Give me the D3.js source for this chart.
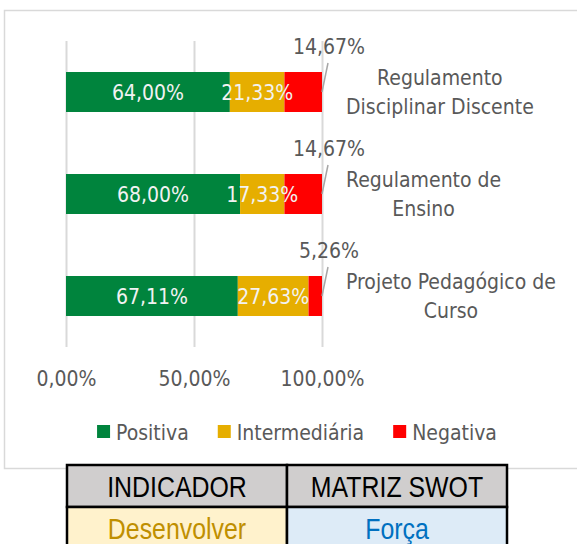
<!DOCTYPE html>
<html>
<head>
<meta charset="utf-8">
<script src="https://cdn.jsdelivr.net/npm/d3@7"></script>
<style>
  body { margin: 0; background: #fff; }
  svg { display: block; }
</style>
</head>
<body>
<svg id="chart"></svg>
<script>
const width = 577
const height = 544

// chart data, top bar first
const categories = ["Regulamento Disciplinar Discente", "Regulamento de Ensino", "Projeto Pedagógico de Curso"]
const category_lines = [["Regulamento", "Disciplinar Discente"], ["Regulamento de", "Ensino"], ["Projeto Pedagógico de", "Curso"]]
const series_names = ["Positiva", "Intermediária", "Negativa"]
const positiva = [64.00, 68.00, 67.11]
const intermediaria = [21.33, 17.33, 27.63]
const negativa = [14.67, 14.67, 5.26]
const x_ticks = [0, 50, 100]
const series_colors = ["#00843d", "#e6ae00", "#ff0000"]

// small table under the chart
const table_header = ["INDICADOR", "MATRIZ SWOT"]
const table_row = ["Desenvolver", "Força"]

const chart_font = "'DejaVu Sans Condensed', 'DejaVu Sans', sans-serif"
const table_font = "'Liberation Sans', Arial, sans-serif"
const text_gray = "#595959"

let svg = d3.select("#chart")
    .attr("width", width)
    .attr("height", height)

let locale = d3.formatLocale({ decimal: ",", thousands: ".", grouping: [3], currency: ["", ""] })
let pct = v => locale.format(".2f")(v) + "%"

// chart frame
svg.append("rect")
    .attr("x", 4.5).attr("y", 10.5)
    .attr("width", 620).attr("height", 458)
    .attr("fill", "#fff")
    .attr("stroke", "#d9d9d9")
    .attr("stroke-width", 1.5)

let x = d3.scaleLinear().domain([0, 100]).range([66, 322])
let y = d3.scaleBand().domain(categories).range([41, 347]).paddingInner(0.608).paddingOuter(0.304)

// gridlines + tick labels
let axis = svg.append("g")
    .attr("transform", "translate(0," + y.range()[1] + ")")
    .call(d3.axisBottom(x)
        .tickValues(x_ticks)
        .tickSize(-(y.range()[1] - y.range()[0]))
        .tickPadding(24)
        .tickFormat(pct))
axis.select(".domain").remove()
axis.selectAll(".tick line").attr("stroke", "#d9d9d9").attr("stroke-width", 2)
axis.selectAll(".tick text")
    .attr("fill", text_gray)
    .style("font-family", chart_font)
    .style("font-size", "21px")

// stacked bars
let rows = categories.map((c, i) => ({ category: c, Positiva: positiva[i], "Intermediária": intermediaria[i], Negativa: negativa[i] }))
let stack = d3.stack().keys(series_names)(rows)

let layers = svg.append("g").selectAll("g")
    .data(stack)
    .enter()
    .append("g")
    .attr("fill", (d, i) => series_colors[i])

layers.selectAll("rect")
    .data(d => d)
    .enter()
    .append("rect")
    .attr("x", d => x(d[0]))
    .attr("width", d => x(d[1]) - x(d[0]))
    .attr("y", d => y(d.data.category))
    .attr("height", y.bandwidth())

// labels inside the green and yellow parts
let inside = svg.append("g")
    .attr("fill", "#f2f2f2")
    .style("font-family", chart_font)
    .style("font-size", "21px")
    .style("text-anchor", "middle")
stack.slice(0, 2).forEach(layer => {
    inside.selectAll(null)
        .data(layer)
        .enter()
        .append("text")
        .attr("x", d => (x(d[0]) + x(d[1])) / 2)
        .attr("y", d => y(d.data.category) + y.bandwidth() / 2)
        .attr("dy", "0.36em")
        .text(d => pct(d[1] - d[0]))
})

// negativa labels above the bar end, with leader lines
let outside = svg.append("g")
    .style("font-family", chart_font)
    .style("font-size", "21px")
outside.selectAll("line")
    .data(categories)
    .enter()
    .append("line")
    .attr("x1", x(100) + 6)
    .attr("y1", c => y(c) - 9)
    .attr("x2", x(100))
    .attr("y2", c => y(c) + y.bandwidth() / 2)
    .attr("stroke", "#a6a6a6")
    .attr("stroke-width", 1.5)
outside.selectAll("text")
    .data(categories)
    .enter()
    .append("text")
    .attr("x", x(100) + 7)
    .attr("y", (c, i) => y(c) - 26)
    .attr("dy", "0.36em")
    .attr("fill", text_gray)
    .style("text-anchor", "middle")
    .text((c, i) => pct(negativa[i]))

// category names to the right
let cat_g = svg.append("g")
    .style("font-family", chart_font)
    .style("font-size", "21px")
    .attr("fill", text_gray)
category_lines.forEach((lines, i) => {
    let cy = y(categories[i]) + y.bandwidth() / 2
    let block = cat_g.append("g")
    let texts = block.selectAll("text")
        .data(lines)
        .enter()
        .append("text")
        .attr("y", (d, j) => cy + (j - (lines.length - 1) / 2) * 29)
        .attr("dy", "0.36em")
        .style("text-anchor", "middle")
        .text(d => d)
    let w = d3.max(texts.nodes(), n => n.getComputedTextLength())
    texts.attr("x", x(100) + 24 + w / 2)
})

// legend
let legend = svg.append("g")
    .style("font-family", chart_font)
    .style("font-size", "21px")
let lx = 0
series_names.forEach((name, i) => {
    let g = legend.append("g")
    g.append("rect").attr("width", 13).attr("height", 13).attr("y", -7).attr("fill", series_colors[i])
    let t = g.append("text").attr("x", 19).attr("dy", "0.36em").attr("fill", text_gray).text(name)
    let w = 19 + t.node().getComputedTextLength()
    g.attr("transform", "translate(" + lx + ",0)")
    lx += w + 29
})
let legend_w = lx - 29
legend.attr("transform", "translate(" + (297 - legend_w / 2) + ",432)")

// table (narrow text done with a horizontal squeeze)
let tx = [67, 287, 507]
let ty = [465, 507, 549]
let cell_fill = [["#d0cece", "#d0cece"], ["#fff2cc", "#ddebf7"]]
let cell_text = [table_header, table_row]
let cell_color = [["#000", "#000"], ["#bf8f00", "#0070c0"]]
let table = svg.append("g")
for (let r = 0; r < 2; r++) {
    for (let c = 0; c < 2; c++) {
        table.append("rect")
            .attr("x", tx[c]).attr("y", ty[r])
            .attr("width", tx[c + 1] - tx[c]).attr("height", ty[r + 1] - ty[r])
            .attr("fill", cell_fill[r][c])
            .attr("stroke", "#000")
            .attr("stroke-width", 2.5)
        table.append("g")
            .attr("transform", "translate(" + (tx[c] + tx[c + 1]) / 2 + "," + (ty[r] + 32) + ") scale(0.83,1)")
            .append("text")
            .attr("fill", cell_color[r][c])
            .style("font-family", table_font)
            .style("font-size", "30px")
            .style("text-anchor", "middle")
            .text(cell_text[r][c])
    }
}
</script>
</body>
</html>
